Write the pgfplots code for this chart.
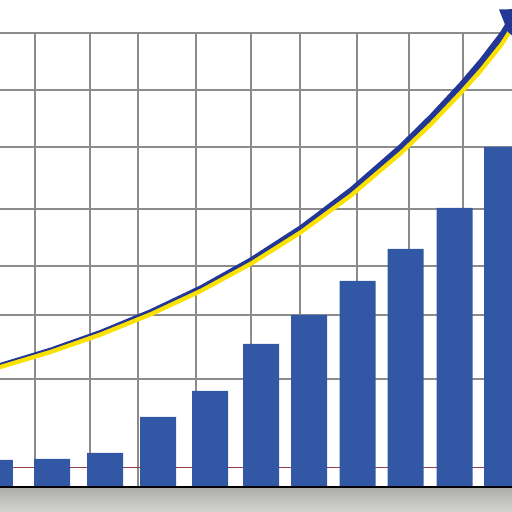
\documentclass[border=0pt]{standalone}
\usepackage{pgfplots}
\pgfplotsset{compat=1.18}
\definecolor{barblue}{RGB}{50,88,165}
\definecolor{curveblue}{RGB}{35,55,150}
\definecolor{curveyellow}{RGB}{250,225,0}
\definecolor{gridgray}{RGB}{140,140,140}
\definecolor{redline}{RGB}{150,60,70}
\definecolor{baseline}{RGB}{95,80,65}
\definecolor{groundtop}{RGB}{172,172,168}
\definecolor{groundbot}{RGB}{212,212,208}
\begin{document}
\begin{tikzpicture}
\begin{axis}[
  scale only axis, width=256pt, height=239.5pt,
  xmin=0, xmax=512, ymin=0, ymax=479,
  clip=false,
  axis line style={draw=none},
  tick style={draw=none},
  xtick={35,90,138,196,251,300,357,409,463},
  ytick={133,197,246,303,365,422,479},
  xticklabels={}, yticklabels={},
  xmajorgrids, ymajorgrids,
  major grid style={gridgray, line width=0.65pt},
]
\coordinate (sw) at (axis cs:0,0);
\coordinate (ne) at (axis cs:512,512);
% thin red line behind bars
\addplot[redline, line width=0.5pt, forget plot] coordinates {(0,44) (512,44)};
% bars
\addplot[ybar, bar width=36, fill=barblue, draw=none, forget plot] coordinates {
  (-5,52) (52,53) (105,59) (158,95) (210,121) (261,168)
  (309,197) (357.5,231) (405.5,263) (454.5,304) (502,365)};
% ground
\addplot[draw=none, top color=groundtop, bottom color=groundbot, forget plot]
  coordinates {(0,25) (512,25)} \closedcycle;
\addplot[baseline, line width=0.7pt, forget plot] coordinates {(0,25) (512,25)};
% trend curve: yellow band
\addplot[curveyellow, line width=2.4pt, forget plot] coordinates {
  (-2,144.6) (50,160.1) (100,177.5) (150,197.7) (200,221.0) (250,248.1) (300,279.5)
  (350,316.1) (400,358.6) (430,387.3) (460,418.7) (480,441.0) (500,466.0) (512,484.5)};
% trend curve: blue band (area, widening to the right)
\addplot[fill=curveblue, draw=none, forget plot] coordinates {
  (-2,148.5) (50,164.3) (100,182.0) (150,202.7) (200,226.5) (250,254.4) (300,286.7)
  (350,324.5) (400,368.1) (430,397.7) (460,430.0) (480,453.5) (500,479.6) (512,499.2)
  (512,487.9) (500,469.3) (480,444.2) (460,421.7) (430,390.2) (400,361.3) (350,318.7)
  (300,281.9) (250,250.4) (200,223.2) (150,199.9) (100,179.7) (50,162.2) (-2,146.6)} --cycle;
% arrow head
\addplot[fill=curveblue, draw=none, forget plot] coordinates {
  (499,502.5) (520,503) (520,470) (508,480)} --cycle;
\end{axis}
\pgfresetboundingbox
\useasboundingbox (sw) rectangle (ne);
\end{tikzpicture}
\end{document}
